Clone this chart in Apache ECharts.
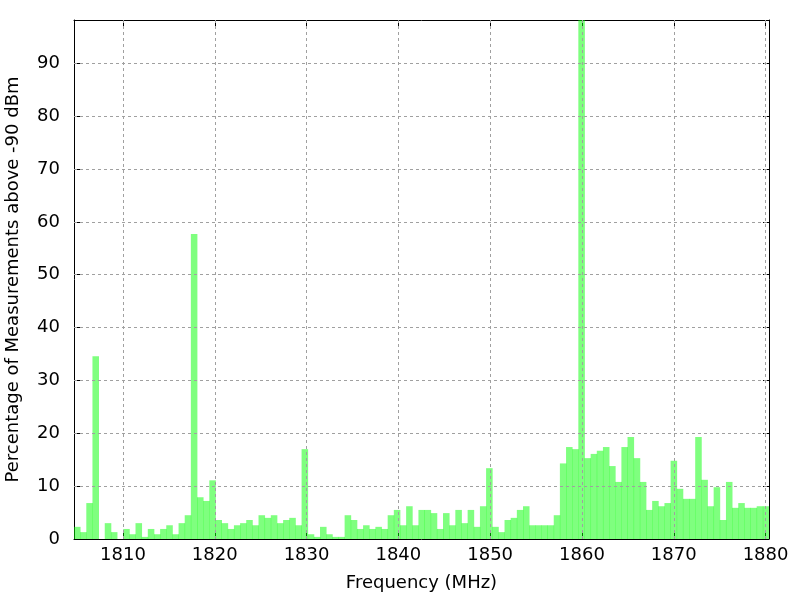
<!DOCTYPE html>
<html>
<head>
<meta charset="utf-8">
<script src="https://cdn.jsdelivr.net/npm/echarts@6/dist/echarts.min.js"></script>
<style>html,body{margin:0;padding:0;background:#fff}#c{width:800px;height:600px}</style>
</head>
<body>
<div id="c"></div>
<script>
// Bin centre frequencies (MHz)
const frequencies = [
  1805.00,1805.67,1806.34,1807.01,1807.68,1808.35,1809.02,1809.69,1810.36,1811.03,
  1811.70,1812.37,1813.04,1813.71,1814.38,1815.05,1815.72,1816.39,1817.06,1817.73,
  1818.40,1819.07,1819.74,1820.41,1821.08,1821.75,1822.42,1823.09,1823.76,1824.43,
  1825.10,1825.77,1826.44,1827.11,1827.78,1828.45,1829.12,1829.79,1830.46,1831.13,
  1831.80,1832.47,1833.14,1833.81,1834.48,1835.15,1835.82,1836.49,1837.16,1837.83,
  1838.50,1839.17,1839.84,1840.51,1841.18,1841.85,1842.52,1843.19,1843.86,1844.53,
  1845.20,1845.87,1846.54,1847.21,1847.88,1848.55,1849.22,1849.89,1850.56,1851.23,
  1851.90,1852.57,1853.24,1853.91,1854.58,1855.25,1855.92,1856.59,1857.26,1857.93,
  1858.60,1859.27,1859.94,1860.61,1861.28,1861.95,1862.62,1863.29,1863.96,1864.63,
  1865.30,1865.97,1866.64,1867.31,1867.98,1868.65,1869.32,1869.99,1870.66,1871.33,
  1872.00,1872.67,1873.34,1874.01,1874.68,1875.35,1876.02,1876.69,1877.36,1878.03,
  1878.70,1879.37,1880.04
];
// Percentage of measurements above -90 dBm
const percentages = [
  2.3,1.3,6.8,34.6,0,3.0,1.3,0,1.9,0.9,
  3.0,0.4,1.9,0.9,1.9,2.6,0.9,3.0,4.5,57.7,
  7.9,7.2,11.1,3.6,3.0,1.9,2.6,3.0,3.6,2.6,
  4.5,4.0,4.5,3.0,3.6,4.0,2.6,17.0,0.9,0.4,
  2.3,0.9,0.4,0.4,4.5,3.6,1.9,2.6,1.9,2.3,
  1.9,4.5,5.5,2.6,6.2,2.6,5.5,5.5,4.9,1.9,
  4.9,2.6,5.5,3.0,5.5,2.3,6.2,13.4,2.3,1.3,
  3.6,4.0,5.5,6.2,2.6,2.6,2.6,2.6,4.5,14.3,
  17.4,17.0,100,15.3,16.1,16.7,17.4,13.8,10.8,17.4,
  19.3,15.3,10.8,5.5,7.2,6.2,6.8,14.8,9.5,7.6,
  7.6,19.3,11.2,6.2,9.8,3.6,10.8,5.9,6.8,5.9,
  5.9,6.2,6.2
];
const xTicks = [1810,1820,1830,1840,1850,1860,1870,1880];
const yTicks = [0,10,20,30,40,50,60,70,80,90];

const binWidth = frequencies[1] - frequencies[0];
const xMin = frequencies[0] - binWidth / 2;
const xMax = frequencies[frequencies.length - 1] + binWidth / 2;
const yMax = 98.2;
const FONT = 'DejaVu Sans';
const FS = 18;
const data = frequencies.map((f, i) => [f, percentages[i]]);

const chart = echarts.init(document.getElementById('c'), null, {renderer: 'canvas'});

const axisLine = {show: true, onZero: false, lineStyle: {color: '#000', width: 1}};
const tickStyle = {color: '#000', width: 1};
const plain = v => String(v);

chart.setOption({
  animation: false,
  backgroundColor: '#fff',
  grid: {left: 74, right: 31, top: 20, bottom: 61, containLabel: false, outerBoundsMode: 'none'},
  xAxis: [
    {
      type: 'value', min: xMin, max: xMax, position: 'bottom',
      axisLine: axisLine,
      axisTick: {show: true, inside: true, length: 6, customValues: xTicks, lineStyle: tickStyle},
      axisLabel: {customValues: xTicks, formatter: plain, fontFamily: FONT, fontSize: FS, color: '#000', margin: 7},
      splitLine: {show: false},
      name: 'Frequency (MHz)', nameLocation: 'middle', nameGap: 35,
      nameTextStyle: {fontFamily: FONT, fontSize: FS, color: '#000'}
    },
    {
      type: 'value', min: xMin, max: xMax, position: 'top',
      axisLine: axisLine,
      axisTick: {show: true, inside: true, length: 6, customValues: xTicks, lineStyle: tickStyle},
      axisLabel: {show: false},
      splitLine: {show: false}
    }
  ],
  yAxis: [
    {
      type: 'value', min: 0, max: yMax, position: 'left',
      axisLine: axisLine,
      axisTick: {show: true, inside: true, length: 6, customValues: yTicks, lineStyle: tickStyle},
      axisLabel: {customValues: yTicks, formatter: plain, fontFamily: FONT, fontSize: FS, color: '#000', margin: 14},
      splitLine: {show: false},
      name: 'Percentage of Measurements above -90 dBm', nameLocation: 'middle', nameGap: 52,
      nameTextStyle: {fontFamily: FONT, fontSize: FS, color: '#000'}
    },
    {
      type: 'value', min: 0, max: yMax, position: 'right',
      axisLine: axisLine,
      axisTick: {show: true, inside: true, length: 6, customValues: yTicks, lineStyle: tickStyle},
      axisLabel: {show: false},
      splitLine: {show: false}
    }
  ],
  series: [
    {
      // dashed grid lines at the tick values
      type: 'line', xAxisIndex: 0, yAxisIndex: 0, data: [], z: 1, silent: true,
      markLine: {
        silent: true, symbol: 'none', animation: false,
        label: {show: false},
        lineStyle: {color: '#a0a0a0', type: [3, 3], width: 1},
        data: xTicks.map(v => ({xAxis: v})).concat(yTicks.filter(v => v > 0).map(v => ({yAxis: v})))
      }
    },
    {
      type: 'custom',
      xAxisIndex: 0, yAxisIndex: 0, z: 2,
      clip: true,
      data: data,
      encode: {x: 0, y: 1},
      renderItem: function (params, api) {
        const x = api.value(0), y = api.value(1);
        const p0 = api.coord([x - binWidth / 2, 0]);
        const p1 = api.coord([x + binWidth / 2, y]);
        return {
          type: 'rect',
          shape: {x: p0[0], y: p1[1], width: p1[0] - p0[0] + 0.4, height: p0[1] - p1[1]},
          style: {fill: 'rgba(0,255,0,0.5)'}
        };
      }
    }
  ]
});
</script>
</body>
</html>
